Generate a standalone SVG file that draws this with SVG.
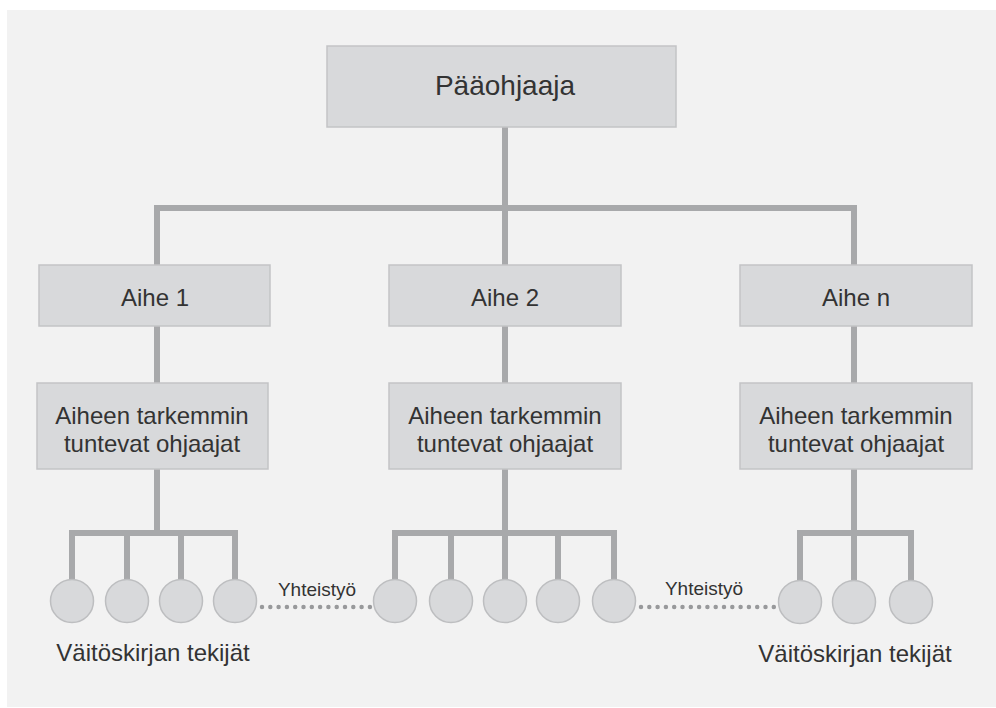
<svg xmlns="http://www.w3.org/2000/svg" width="996" height="708" viewBox="0 0 996 708">
<style>
.box{fill:#d8d9db;stroke:#c3c4c6;stroke-width:1.5}
.leaf{fill:#d8d9db;stroke:#bdbec0;stroke-width:1.5}
.ln{stroke:#a8a9ab;stroke-width:6;fill:none;stroke-linecap:square}
.dot{stroke:#98999b;stroke-width:4.5;stroke-linecap:round;stroke-dasharray:0 8.3;fill:none}
text{font-family:"Liberation Sans",Arial,sans-serif;fill:#333;text-anchor:middle}
.t24{font-size:24px}
.t28{font-size:28px}
.t19{font-size:19px}
</style>
<rect x="7" y="10" width="989" height="697" fill="#f2f2f2"/>
<g id="connectors">
<path class="ln" d="M505 127V208M157 208H854M157 208V265M505 208V265M854 208V265"/>
<path class="ln" d="M157 326V383M505 326V383M854 326V383"/>
<path class="ln" d="M157 469V533M72 533H235M72 533V580M127 533V580M181 533V580M235 533V580"/>
<path class="ln" d="M505 469V580M395 533H614M395 533V580M451 533V580M558 533V580M614 533V580"/>
<path class="ln" d="M854 469V580M800 533H911M800 533V580M911 533V580"/>
<path class="dot" d="M262 607H370"/>
<path class="dot" d="M641 607H774"/>
</g>
<g id="paaohjaaja"><rect class="box" x="327" y="46" width="349" height="81"/><text class="t28" x="505" y="95">Pääohjaaja</text></g>
<g id="aihe1"><rect class="box" x="39" y="265" width="231" height="61"/><text class="t24" x="155" y="306">Aihe 1</text></g>
<g id="aihe2"><rect class="box" x="389" y="265" width="232" height="61"/><text class="t24" x="505" y="306">Aihe 2</text></g>
<g id="aihen"><rect class="box" x="740" y="265" width="232" height="61"/><text class="t24" x="856" y="306">Aihe n</text></g>
<g id="ohjaajat1"><rect class="box" x="37" y="383" width="231" height="86"/><text class="t24" x="152" y="424">Aiheen tarkemmin</text><text class="t24" x="152" y="452">tuntevat ohjaajat</text></g>
<g id="ohjaajat2"><rect class="box" x="389" y="383" width="232" height="86"/><text class="t24" x="505" y="424">Aiheen tarkemmin</text><text class="t24" x="505" y="452">tuntevat ohjaajat</text></g>
<g id="ohjaajatn"><rect class="box" x="740" y="383" width="232" height="86"/><text class="t24" x="856" y="424">Aiheen tarkemmin</text><text class="t24" x="856" y="452">tuntevat ohjaajat</text></g>
<g id="tekijat1">
<circle class="leaf" cx="72" cy="601" r="21.5"/><circle class="leaf" cx="127" cy="601" r="21.5"/><circle class="leaf" cx="181" cy="601" r="21.5"/><circle class="leaf" cx="235" cy="601" r="21.5"/>
</g>
<g id="tekijat2">
<circle class="leaf" cx="395" cy="601" r="21.5"/><circle class="leaf" cx="451" cy="601" r="21.5"/><circle class="leaf" cx="505" cy="601" r="21.5"/><circle class="leaf" cx="558" cy="601" r="21.5"/><circle class="leaf" cx="614" cy="601" r="21.5"/>
</g>
<g id="tekijatn">
<circle class="leaf" cx="800" cy="602" r="21.5"/><circle class="leaf" cx="854" cy="602" r="21.5"/><circle class="leaf" cx="911" cy="602" r="21.5"/>
</g>
<g id="labels">
<text class="t19" x="317" y="596">Yhteistyö</text>
<text class="t19" x="704" y="595">Yhteistyö</text>
<text class="t24" x="153" y="661">Väitöskirjan tekijät</text>
<text class="t24" x="855" y="662">Väitöskirjan tekijät</text>
</g>
</svg>
